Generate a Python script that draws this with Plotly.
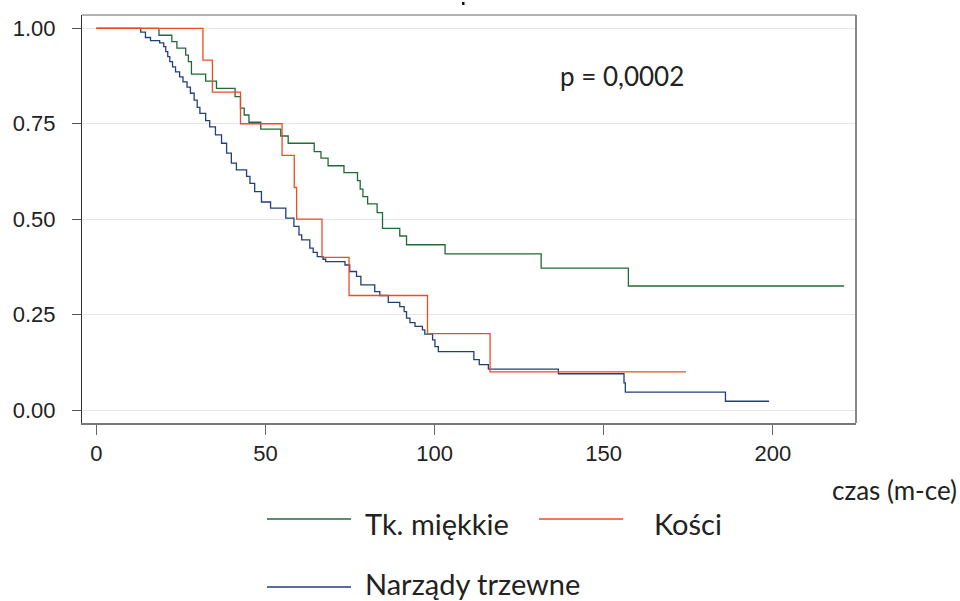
import plotly.graph_objects as go

# Survival estimates by tumour location (time in months)
tk_name = "Tk. miękkie"
tk_t = [0, 18.5, 22.3, 23.8, 26.4, 27.2, 28.1, 32.3, 35.5, 41.0,
        42.6, 43.7, 45.1, 48.6, 54.5, 56.7, 64.4, 66.4, 68.5, 73.2,
        77.2, 78.0, 78.8, 80.2, 83.0, 84.6, 89.7, 91.7, 103.1, 131.5,
        157.3, 221.1]
tk_s = [1.0, 0.982, 0.965, 0.948, 0.930, 0.913, 0.880, 0.862, 0.843, 0.821,
        0.791, 0.773, 0.754, 0.736, 0.718, 0.699, 0.677, 0.660, 0.640, 0.622,
        0.601, 0.579, 0.559, 0.540, 0.517, 0.476, 0.456, 0.433, 0.409, 0.372,
        0.325, 0.325]

ko_name = "Kości"
ko_t = [0, 31.5, 34.3, 42.6, 54.9, 58.5, 59.2, 66.7, 74.7, 97.9, 116.4, 174.3]
ko_s = [1.0, 0.917, 0.833, 0.750, 0.667, 0.583, 0.500, 0.400, 0.300, 0.200, 0.100, 0.100]

nt_name = "Narządy trzewne"
nt_t = [0, 13.1, 14.5, 16.0, 18.7, 19.9, 20.5, 21.1, 21.7, 22.5,
        23.4, 24.6, 25.6, 26.8, 27.8, 28.9, 29.8, 30.6, 32.3, 33.5,
        35.2, 37.0, 38.5, 39.9, 41.4, 44.4, 45.4, 46.8, 48.8, 51.5,
        56.0, 58.4, 59.9, 60.7, 63.1, 64.1, 65.3, 67.0, 67.8, 73.5,
        74.9, 76.9, 78.2, 82.3, 83.8, 86.3, 89.7, 91.0, 91.7, 92.7,
        94.2, 96.4, 97.1, 99.4, 100.1, 101.1, 111.6, 113.2, 115.9, 136.6,
        156.0, 156.4, 186.0, 198.9]
nt_s = [1.0, 0.990, 0.976, 0.968, 0.962, 0.952, 0.939, 0.926, 0.913, 0.899,
        0.886, 0.873, 0.860, 0.846, 0.830, 0.812, 0.793, 0.777, 0.758, 0.742,
        0.721, 0.699, 0.673, 0.647, 0.629, 0.612, 0.594, 0.572, 0.545, 0.529,
        0.503, 0.481, 0.459, 0.446, 0.424, 0.413, 0.402, 0.395, 0.389, 0.380,
        0.363, 0.350, 0.328, 0.310, 0.300, 0.282, 0.271, 0.258, 0.241, 0.229,
        0.219, 0.210, 0.199, 0.184, 0.166, 0.153, 0.132, 0.119, 0.107, 0.095,
        0.071, 0.047, 0.023, 0.023]

x_ticks = [0, 50, 100, 150, 200]
y_ticks = [0.0, 0.25, 0.5, 0.75, 1.0]
y_tick_text = ["0.00", "0.25", "0.50", "0.75", "1.00"]

p_text = "p = 0,0002"
x_title = "czas (m-ce)"

GREEN = "#1f6b37"
RED = "#ef4a26"
BLUE = "#213f7b"

W, H = 960, 601
L, R, T, B = 82, 104, 15, 178
PW, PH = W - L - R, H - T - B


def px(x):
    return (x - L) / PW


def py(y):
    return (H - B - y) / PH


fig = go.Figure()
# draw order: blue first, then green, red on top
for t, s, c in [(nt_t, nt_s, BLUE), (tk_t, tk_s, GREEN), (ko_t, ko_s, RED)]:
    fig.add_trace(go.Scatter(x=t, y=s, mode="lines", line=dict(color=c, width=1.3, shape="hv"),
                             showlegend=False, hoverinfo="skip"))

tick_font = dict(family="Liberation Sans, Arial, sans-serif", size=22, color="#222")
fig.update_layout(
    width=W, height=H,
    margin=dict(l=L, r=R, t=T, b=B),
    paper_bgcolor="white", plot_bgcolor="white",
    xaxis=dict(range=[-4.26, 224.6], tickvals=x_ticks, ticks="outside", ticklen=10,
               tickcolor="#666", tickwidth=1, showgrid=False, zeroline=False,
               showline=True, linecolor="#777", linewidth=2, tickfont=tick_font,
               ticklabelstandoff=0),
    yaxis=dict(range=[-0.034, 1.035], tickvals=y_ticks, ticktext=y_tick_text,
               ticks="outside", ticklen=9, tickcolor="#555", showgrid=True,
               gridcolor="#e6e6e6", gridwidth=1, zeroline=False, showline=True,
               linecolor="#333", linewidth=1, tickfont=tick_font, ticklabelstandoff=12),
)

# top and right edges of the frame
fig.add_shape(type="line", xref="paper", yref="paper", x0=0, x1=1, y0=1, y1=1,
              line=dict(color="#666", width=1))
fig.add_shape(type="line", xref="paper", yref="paper", x0=1, x1=1, y0=0, y1=1,
              line=dict(color="#888", width=2))
# small mark above the frame
fig.add_shape(type="rect", xref="paper", yref="paper", x0=px(462), x1=px(464.5),
              y0=py(5), y1=py(2), line=dict(width=0), fillcolor="#111")

lab_font = dict(family="Lato, sans-serif", size=29, color="#222")

fig.add_annotation(xref="paper", yref="paper", x=px(558), y=py(76), xanchor="left",
                   yanchor="middle", text=p_text, showarrow=False,
                   font=dict(family="Lato, sans-serif", size=26, color="#222"))
fig.add_annotation(xref="paper", yref="paper", x=px(959), y=py(490), xanchor="right",
                   yanchor="middle", text=x_title, showarrow=False,
                   font=dict(family="Lato, sans-serif", size=26, color="#222"))

# legend
legend_items = [(tk_name, GREEN, 267, 519, 363, 523), (ko_name, RED, 539, 519, 652, 523),
                (nt_name, BLUE, 267, 587, 363, 583)]
for name, col, lx, ly, tx, ty in legend_items:
    fig.add_shape(type="line", xref="paper", yref="paper", x0=px(lx), x1=px(lx + 84),
                  y0=py(ly), y1=py(ly), line=dict(color=col, width=1.3))
    fig.add_annotation(xref="paper", yref="paper", x=px(tx), y=py(ty), xanchor="left",
                       yanchor="middle", text=name, showarrow=False, font=lab_font)

fig.write_html("out.html")
